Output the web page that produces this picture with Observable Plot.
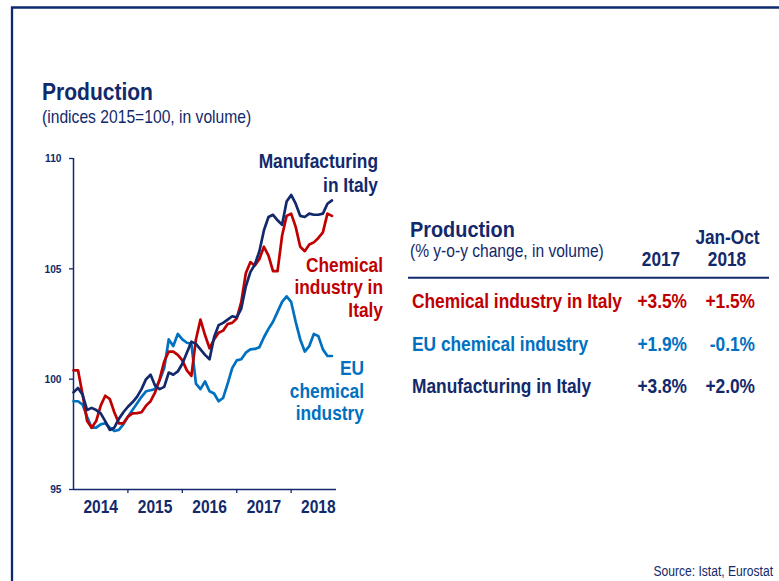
<!DOCTYPE html>
<html><head><meta charset="utf-8">
<script src="https://cdn.jsdelivr.net/npm/d3@7"></script>
<script src="https://cdn.jsdelivr.net/npm/@observablehq/plot@0.6"></script>
<style>
html,body{margin:0;padding:0;background:#fff;}
#wrap{position:relative;width:779px;height:581px;overflow:hidden;background:#fff;font-family:"Liberation Sans",Arial,sans-serif;}
#wrap svg{position:absolute;left:0;top:0;}
</style></head><body><div id="wrap"></div>
<script>
// ---- data (monthly, Jan 2014 .. Oct 2018) ----
const years = ["2014", "2015", "2016", "2017", "2018"];
const yTicks = [95, 100, 105, 110];
const yearBoundaryTicks = [12, 24, 36, 48];   // month index of each January
const yearLabelTicks = [6, 18, 30, 42, 54];   // month index of each mid-year

const chemicalItaly = [
  100.4, 100.4, 99.3, 98.1, 97.8, 98.1, 98.8, 99.25, 99.1, 98.5, 98.0, 98.0,
  98.3, 98.45, 98.46, 98.5, 98.8, 99.0, 99.4, 100.0, 100.8, 101.25, 101.25, 101.1,
  100.85, 100.4, 100.15, 101.8, 102.7, 102.0, 101.4, 101.8, 102.1, 102.2, 102.5, 102.55,
  102.75, 103.5, 104.8, 105.3, 105.15, 105.45, 106.0, 105.6, 104.9, 104.9, 106.5, 107.4,
  107.5, 106.9, 106.0, 105.8, 106.1, 106.2, 106.4, 106.65, 107.5, 107.4
];
const euChemical = [
  99.0, 99.0, 98.85, 98.3, 97.8, 97.8, 97.95, 98.0, 97.8, 97.65, 97.7, 97.95,
  98.3, 98.6, 98.9, 99.2, 99.45, 99.5, 99.55, 99.95, 100.5, 101.8, 101.5, 102.05,
  101.8, 101.65, 101.6, 99.8, 99.55, 99.9, 99.45, 99.35, 99.0, 99.15, 99.8, 100.5,
  100.85, 100.9, 101.2, 101.35, 101.37, 101.45, 101.9, 102.28, 102.6, 103.05, 103.5, 103.75,
  103.5, 102.6, 101.8, 101.25, 101.5, 102.05, 101.95, 101.35, 101.05, 101.05
];
const manufacturingItaly = [
  99.4, 99.6, 99.3, 98.6, 98.7, 98.6, 98.45, 98.1, 97.7, 97.8, 98.2, 98.5,
  98.75, 98.95, 99.2, 99.55, 100.0, 100.2, 99.7, 99.55, 99.65, 100.3, 100.2, 100.35,
  100.7, 101.2, 101.7, 101.6, 101.35, 101.1, 100.9, 101.9, 102.45, 102.55, 102.7, 102.85,
  102.8, 103.2, 104.2, 104.85, 105.2, 105.8, 106.75, 107.35, 107.45, 107.2, 107.0, 108.05,
  108.35, 107.95, 107.4, 107.35, 107.5, 107.45, 107.45, 107.5, 107.95, 108.1
];

const tableRows = ["Chemical industry in Italy", "EU chemical industry", "Manufacturing in Italy"];
const change2017 = ["+3.5%", "+1.9%", "+3.8%"];
const changeJanOct2018 = ["+1.5%", "-0.1%", "+2.0%"];

const NAVY = "#12296b", RED = "#c00000", BLUE = "#0070c0";
const SX = 0.88; // horizontal compression of the narrow-looking typeface

// ---- chart ----
const chart = Plot.plot({
  width: 779, height: 581,
  marginLeft: 73, marginRight: 443, marginTop: 158, marginBottom: 92,
  x: {domain: [0, 58]},
  y: {domain: [95, 110]},
  style: {fontFamily: '"Liberation Sans", Arial, sans-serif', fontWeight: "bold", color: NAVY, background: "transparent", overflow: "visible"},
  marks: [
    Plot.axisY({ticks: yTicks, tickSize: 4, tickPadding: 8, fontSize: 11.6, label: null, strokeWidth: 1.3}),
    Plot.axisX({ticks: yearBoundaryTicks, tickSize: 4, tickFormat: () => "", label: null, strokeWidth: 1.3}),
    Plot.axisX({ticks: yearLabelTicks, tickSize: 0, tickPadding: 11, fontSize: 17.7, label: null,
      tickFormat: d => years[Math.round((d - 6) / 12)]}),
    Plot.ruleX([0], {stroke: NAVY, strokeWidth: 1.5}),
    Plot.ruleY([95], {stroke: NAVY, strokeWidth: 1.5}),
    Plot.lineY(euChemical, {stroke: BLUE, strokeWidth: 2.7}),
    Plot.lineY(chemicalItaly, {stroke: RED, strokeWidth: 2.7}),
    Plot.lineY(manufacturingItaly, {stroke: NAVY, strokeWidth: 2.7})
  ]
});
d3.select(chart).selectAll("text").each(function () {
  const t = this.getAttribute("transform");
  this.setAttribute("transform", (t ? t + " " : "") + `scale(${SX},1)`);
});
document.getElementById("wrap").appendChild(chart);

// ---- overlay: frame, titles, labels, table ----
const ov = d3.select("#wrap").append("svg").attr("width", 779).attr("height", 581)
  .style("pointer-events", "none");
ov.append("path").attr("d", "M12,581V7.5H779").attr("fill", "none").attr("stroke", "#0e2a6e").attr("stroke-width", 2.3);
ov.append("line").attr("x1", 408).attr("x2", 769).attr("y1", 277.7).attr("y2", 277.7)
  .attr("stroke", NAVY).attr("stroke-width", 2);

function txt(str, x, y, o = {}) {
  ov.append("text").text(str)
    .attr("transform", `translate(${x},${y}) scale(${SX},1)`)
    .attr("text-anchor", o.anchor || "start")
    .attr("font-family", '"Liberation Sans", Arial, sans-serif')
    .attr("font-size", o.size || 19.7)
    .attr("font-weight", o.weight || "bold")
    .attr("fill", o.color || NAVY);
}
txt("Production", 42, 100, {size: 23.9});
txt("(indices 2015=100, in volume)", 42, 123, {size: 17.8, weight: "normal"});

txt("Manufacturing", 378, 167.5, {anchor: "end"});
txt("in Italy", 378, 191.5, {anchor: "end"});
txt("Chemical", 383, 271.7, {anchor: "end", color: RED});
txt("industry in", 383, 294.2, {anchor: "end", color: RED});
txt("Italy", 383, 316.7, {anchor: "end", color: RED});
txt("EU", 364, 375, {anchor: "end", color: BLUE});
txt("chemical", 364, 397.7, {anchor: "end", color: BLUE});
txt("industry", 364, 420.4, {anchor: "end", color: BLUE});

txt("Production", 410, 236.7, {size: 22.6});
txt("(% y-o-y change, in volume)", 410, 257, {size: 17.7, weight: "normal"});
txt("2017", 661, 266, {anchor: "middle", size: 19.6});
txt("Jan-Oct", 727.5, 244, {anchor: "middle", size: 19.6});
txt("2018", 727, 266, {anchor: "middle", size: 19.6});
const rowColors = [RED, BLUE, NAVY];
const rowBase = [308, 350.5, 393];
tableRows.forEach((r, i) => {
  txt(r, 412, rowBase[i], {color: rowColors[i]});
  txt(change2017[i], 687, rowBase[i], {anchor: "end", color: rowColors[i]});
  txt(changeJanOct2018[i], 755, rowBase[i], {anchor: "end", color: rowColors[i]});
});
txt("Source: Istat, Eurostat", 773, 576, {anchor: "end", size: 13.75, weight: "normal"});
</script></body></html>
